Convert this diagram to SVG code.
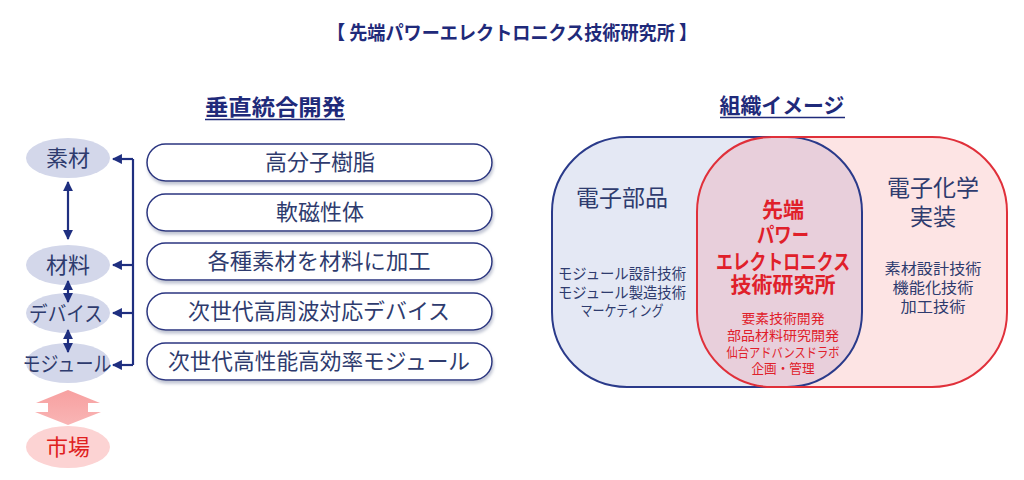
<svg xmlns="http://www.w3.org/2000/svg" width="1024" height="480" viewBox="0 0 1024 480">
<defs>
<style>
text{font-family:"Noto Sans CJK JP","Noto Sans",sans-serif;}
.t{fill:#2e3b6e;text-anchor:middle;}
.h{fill:#1f2a7a;font-weight:bold;text-anchor:middle;}
.ell{fill:#d3d7ea;}
.box{fill:#ffffff;stroke:#2a3580;stroke-width:1.5;}
.arr{stroke:#1f2f80;stroke-width:2.2;fill:none;}
.red{fill:#e0202a;text-anchor:middle;}
</style>
<marker id="ah" viewBox="0 0 10 10" refX="9" refY="5" markerWidth="4.5" markerHeight="4.5" orient="auto-start-reverse" markerUnits="strokeWidth">
<path d="M0,0 L10,5 L0,10 z" fill="#1f2f80"/>
</marker>
<filter id="sh" x="-5%" y="-20%" width="110%" height="150%">
<feDropShadow dx="1" dy="3" stdDeviation="1.5" flood-color="#9aa0b8" flood-opacity="0.6"/>
</filter>
<linearGradient id="pg" x1="0" y1="0" x2="0" y2="1">
<stop offset="0" stop-color="#f7a0a0"/>
<stop offset="1" stop-color="#f9b5b5"/>
</linearGradient>
<clipPath id="lc"><rect x="552" y="137" width="310" height="250" rx="75"/></clipPath>
</defs>
<rect width="1024" height="480" fill="#ffffff"/>

<text class="h" x="512" y="40" font-size="19" textLength="370" lengthAdjust="spacingAndGlyphs">【 先端パワーエレクトロニクス技術研究所 】</text>

<g id="heading-left">
<text class="h" x="275" y="115" font-size="22" textLength="140" lengthAdjust="spacingAndGlyphs">垂直統合開発</text>
<line x1="205" y1="119.5" x2="345" y2="119.5" stroke="#1f2a7a" stroke-width="1.5"/>
</g>
<g id="heading-right">
<text class="h" x="782" y="113" font-size="21" textLength="125" lengthAdjust="spacingAndGlyphs">組織イメージ</text>
<line x1="720" y1="117.5" x2="845" y2="117.5" stroke="#1f2a7a" stroke-width="1.5"/>
</g>

<g id="n-sozai"><ellipse class="ell" cx="68" cy="158" rx="42" ry="20"/><text class="t" x="68" y="166" font-size="22">素材</text></g>
<g id="n-zairyo"><ellipse class="ell" cx="68" cy="265" rx="42" ry="20"/><text class="t" x="68" y="273" font-size="22">材料</text></g>
<g id="n-device"><ellipse class="ell" cx="68" cy="313" rx="42" ry="20"/><text class="t" x="66" y="321" font-size="21" textLength="74" lengthAdjust="spacingAndGlyphs">デバイス</text></g>
<g id="n-module"><ellipse class="ell" cx="68" cy="363" rx="42" ry="20"/><text class="t" x="67" y="371" font-size="21" textLength="89" lengthAdjust="spacingAndGlyphs">モジュール</text></g>
<g id="n-market"><ellipse cx="68" cy="447" rx="42" ry="21" fill="#fcd3d3"/><text x="68" y="455" font-size="22" fill="#e02020" text-anchor="middle">市場</text></g>

<g id="big-arrow"><path d="M68,390 L100,403 L88,403 L88,412 L101,412 L68,425 L35,412 L48,412 L48,403 L36,403 Z" fill="url(#pg)"/></g>

<g id="b1"><rect class="box" x="147" y="144" width="345" height="37" rx="18.5" filter="url(#sh)"/><text class="t" x="320" y="170" font-size="22">高分子樹脂</text></g>
<g id="b2"><rect class="box" x="147" y="194" width="345" height="37" rx="18.5" filter="url(#sh)"/><text class="t" x="320" y="220" font-size="22">軟磁性体</text></g>
<g id="b3"><rect class="box" x="147" y="243" width="345" height="37" rx="18.5" filter="url(#sh)"/><text class="t" x="319" y="269" font-size="22" textLength="223" lengthAdjust="spacingAndGlyphs">各種素材を材料に加工</text></g>
<g id="b4"><rect class="box" x="147" y="293" width="345" height="37" rx="18.5" filter="url(#sh)"/><text class="t" x="319" y="319" font-size="22" textLength="262" lengthAdjust="spacingAndGlyphs">次世代高周波対応デバイス</text></g>
<g id="b5"><rect class="box" x="147" y="343" width="345" height="37" rx="18.5" filter="url(#sh)"/><text class="t" x="319" y="369" font-size="22" textLength="302" lengthAdjust="spacingAndGlyphs">次世代高性能高効率モジュール</text></g>

<g id="connectors">
<line class="arr" x1="68" y1="182" x2="68" y2="239" marker-start="url(#ah)" marker-end="url(#ah)"/>
<line class="arr" x1="68" y1="281" x2="68" y2="302" marker-start="url(#ah)" marker-end="url(#ah)"/>
<line class="arr" x1="68" y1="330" x2="68" y2="352" marker-start="url(#ah)" marker-end="url(#ah)"/>
<path class="arr" d="M133,159 V365"/>
<path class="arr" d="M133,159 H113" marker-end="url(#ah)"/>
<path class="arr" d="M133,265 H113" marker-end="url(#ah)"/>
<path class="arr" d="M133,313 H113" marker-end="url(#ah)"/>
<path class="arr" d="M133,365 H113" marker-end="url(#ah)"/>
</g>

<g id="venn-left"><rect x="552" y="137" width="310" height="250" rx="75" fill="#e4e8f4"/></g>
<g id="venn-right"><rect x="697" y="137" width="310" height="250" rx="75" fill="#fde4e4"/>
<rect x="697" y="137" width="310" height="250" rx="75" fill="#e8cfdb" clip-path="url(#lc)"/></g>
<rect x="552" y="137" width="310" height="250" rx="75" fill="none" stroke="#2a3a8a" stroke-width="2"/>
<rect x="697" y="137" width="310" height="250" rx="75" fill="none" stroke="#e0303a" stroke-width="2"/>

<g id="venn-left-text">
<text class="t" x="622" y="206" font-size="23">電子部品</text>
<text class="t" x="622" y="279" font-size="15" textLength="128" lengthAdjust="spacingAndGlyphs">モジュール設計技術</text>
<text class="t" x="622" y="298" font-size="15" textLength="128" lengthAdjust="spacingAndGlyphs">モジュール製造技術</text>
<text class="t" x="622" y="316" font-size="15" textLength="83" lengthAdjust="spacingAndGlyphs">マーケティング</text>
</g>
<g id="venn-right-text">
<text class="t" x="933" y="196" font-size="23">電子化学</text>
<text class="t" x="933" y="225" font-size="23">実装</text>
<text class="t" x="933" y="274" font-size="15" textLength="97" lengthAdjust="spacingAndGlyphs">素材設計技術</text>
<text class="t" x="933" y="293" font-size="15" textLength="81" lengthAdjust="spacingAndGlyphs">機能化技術</text>
<text class="t" x="933" y="312" font-size="15" textLength="65" lengthAdjust="spacingAndGlyphs">加工技術</text>
</g>
<g id="venn-center-text">
<text class="red" x="783" y="217" font-size="21" font-weight="bold">先端</text>
<text class="red" x="783" y="242" font-size="21" font-weight="bold" textLength="52" lengthAdjust="spacingAndGlyphs">パワー</text>
<text class="red" x="783" y="269" font-size="21" font-weight="bold" textLength="134" lengthAdjust="spacingAndGlyphs">エレクトロニクス</text>
<text class="red" x="783" y="292" font-size="21" font-weight="bold">技術研究所</text>
<text class="red" x="783" y="323" font-size="13" textLength="83" lengthAdjust="spacingAndGlyphs">要素技術開発</text>
<text class="red" x="783" y="340" font-size="13" textLength="112" lengthAdjust="spacingAndGlyphs">部品材料研究開発</text>
<text class="red" x="783" y="357" font-size="13" textLength="113" lengthAdjust="spacingAndGlyphs">仙台アドバンスドラボ</text>
<text class="red" x="783" y="373" font-size="13" textLength="63" lengthAdjust="spacingAndGlyphs">企画・管理</text>
</g>
</svg>
